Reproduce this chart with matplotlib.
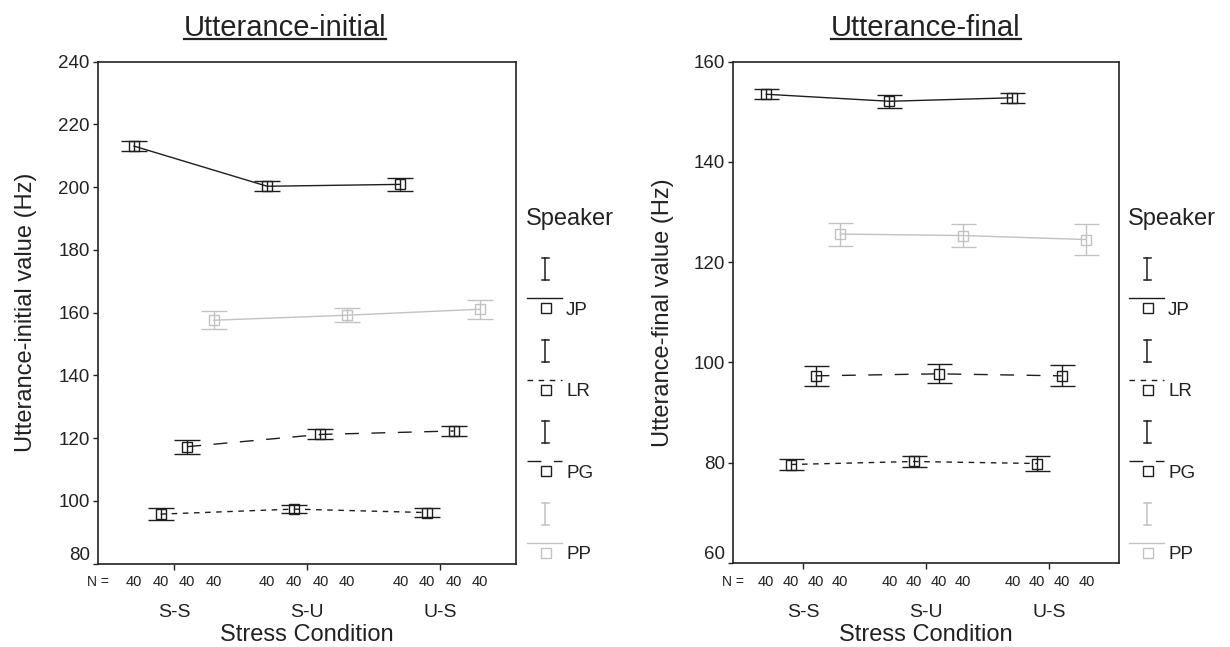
import numpy as np
import matplotlib
matplotlib.use('Agg')
import matplotlib.pyplot as plt
from matplotlib.lines import Line2D
from matplotlib.transforms import blended_transform_factory

plt.rcParams['font.family'] = ['Liberation Sans', 'DejaVu Sans']

# ------------------------------------------------
# data: mean F0 (Hz) with error bar half-widths, per speaker and stress condition
# ------------------------------------------------
conditions = ['S-S', 'S-U', 'U-S']
speakers = ['JP', 'LR', 'PG', 'PP']
n_per_cell = 40

init_jp = [213.1, 200.3, 200.9]
init_jp_err = [1.6, 1.6, 2.0]
init_lr = [95.8, 97.4, 96.3]
init_lr_err = [1.8, 1.3, 1.5]
init_pg = [117.3, 121.2, 122.3]
init_pg_err = [2.2, 1.6, 1.7]
init_pp = [157.6, 159.2, 161.1]
init_pp_err = [2.8, 2.2, 3.0]

final_jp = [153.5, 152.1, 152.8]
final_jp_err = [1.0, 1.35, 1.0]
final_lr = [79.6, 80.2, 79.8]
final_lr_err = [1.1, 1.0, 1.45]
final_pg = [97.3, 97.7, 97.3]
final_pg_err = [2.05, 1.9, 2.1]
final_pp = [125.6, 125.3, 124.5]
final_pp_err = [2.3, 2.35, 3.05]

# ------------------------------------------------
# layout / style
# ------------------------------------------------
W, H = 1230, 647
dark = '#1e1e1e'
light = '#c2c2c2'
styles = {
    'JP': dict(color=dark, ls='-'),
    'LR': dict(color=dark, ls=(0, (4, 4))),
    'PG': dict(color=dark, ls=(0, (10, 9))),
    'PP': dict(color=light, ls='-'),
}
offsets = [-0.3, -0.1, 0.1, 0.3]

panels = [
    dict(box=(98.3, 61.7, 516.0, 563.7), ylim=(80, 240), step=20,
         title='Utterance-initial', title_x=285, ylabel='Utterance-initial value (Hz)',
         ylabel_x=26.5, cap=9.6, legend_x=527,
         means=[init_jp, init_lr, init_pg, init_pp],
         errs=[init_jp_err, init_lr_err, init_pg_err, init_pp_err]),
    dict(box=(733.3, 61.7, 1119.3, 562.7), ylim=(60, 160), step=20,
         title='Utterance-final', title_x=926, ylabel='Utterance-final value (Hz)',
         ylabel_x=662.7, cap=9.0, legend_x=1129,
         means=[final_jp, final_lr, final_pg, final_pp],
         errs=[final_jp_err, final_lr_err, final_pg_err, final_pp_err]),
]

fig = plt.figure(figsize=(W / 100, H / 100), dpi=100)

# overlay in pixel units (y from top) for legend / text placement
lg = fig.add_axes([0, 0, 1, 1], zorder=5)
lg.set_xlim(0, W)
lg.set_ylim(H, 0)
lg.axis('off')
lg.patch.set_visible(False)

renderer = fig.canvas.get_renderer()

for p in panels:
    x0, y0, x1, y1 = p['box']
    ax = fig.add_axes([x0 / W, 1 - y1 / H, (x1 - x0) / W, (y1 - y0) / H])
    xg = np.arange(len(conditions))

    for i, sp in enumerate(speakers):
        st = styles[sp]
        xs = xg + offsets[i]
        ax.errorbar(xs, p['means'][i], yerr=p['errs'][i], fmt='none',
                    ecolor=st['color'], elinewidth=1, capsize=p['cap'], capthick=1)
        ax.plot(xs, p['means'][i], color=st['color'], ls=st['ls'], lw=1,
                marker='s', ms=7.2, mfc='none', mec=st['color'], mew=1)

    ax.set_xlim(-0.568, 2.568)
    ax.set_ylim(*p['ylim'])
    ax.set_yticks(np.arange(p['ylim'][0], p['ylim'][1] + 1, p['step']))
    ax.set_xticks(xg)
    ax.set_xticklabels([])
    ax.tick_params(axis='y', direction='out', length=3.6, width=1, pad=2.5,
                   labelsize=13.5, colors='#222222')
    ax.tick_params(axis='x', direction='out', length=4, width=1, colors='#222222')
    for s in ax.spines.values():
        s.set_linewidth(1.2)
        s.set_color('#222222')
    ax.yaxis.get_major_ticks()[0].label1.set_verticalalignment('bottom')

    # N row and condition labels under the axis
    tr = blended_transform_factory(ax.transData, lg.transData)
    lg.text(x0 - 11.6, 586, 'N =', fontsize=10, va='baseline', ha='left', color='#222222')
    for g in xg:
        for off in offsets:
            lg.text(g + off, 586, str(n_per_cell), fontsize=10.5, ha='center',
                    va='baseline', color='#222222', transform=tr)
        lg.text(g, 617, conditions[g], fontsize=14, ha='center', va='baseline',
                color='#222222', transform=tr)
    tr2 = blended_transform_factory(ax.transAxes, lg.transData)
    lg.text(0.5, 641, 'Stress Condition', fontsize=17, ha='center', va='baseline',
            color='#222222', transform=tr2)

    # y label
    lg.text(p['ylabel_x'], (y0 + y1) / 2, p['ylabel'], fontsize=17, rotation=90,
            ha='center', va='center', color='#222222')

    # underlined title
    t = lg.text(p['title_x'], 36, p['title'], fontsize=21, ha='center',
                va='baseline', color='#222222')
    bb = t.get_window_extent(renderer=renderer)
    fig.add_artist(Line2D([bb.x0 / W, bb.x1 / W], [1 - 38.5 / H] * 2,
                          transform=fig.transFigure, color='#222222', lw=1.6))

    # legend
    lx = p['legend_x']
    lg.text(lx - 1, 224.5, 'Speaker', fontsize=17, va='baseline', color='#222222')
    for i, sp in enumerate(speakers):
        st = styles[sp]
        ly = 308 + 81.5 * i
        c = st['color']
        lg.plot([lx + 18, lx + 18], [ly - 50, ly - 28], color=c, lw=1.1)
        lg.plot([lx + 14.5, lx + 21.5], [ly - 50, ly - 50], color=c, lw=1.1)
        lg.plot([lx + 14.5, lx + 21.5], [ly - 28, ly - 28], color=c, lw=1.1)
        lg.plot([lx, lx + 35], [ly - 10, ly - 10], color=c, ls=st['ls'], lw=1)
        lg.plot([lx + 19], [ly], marker='s', ms=7.2, mfc='none', mec=c, mew=1)
        lg.text(lx + 39, ly + 6.7, sp, fontsize=13.5, va='baseline', color='#222222')

fig.savefig('out.png', dpi=100)
